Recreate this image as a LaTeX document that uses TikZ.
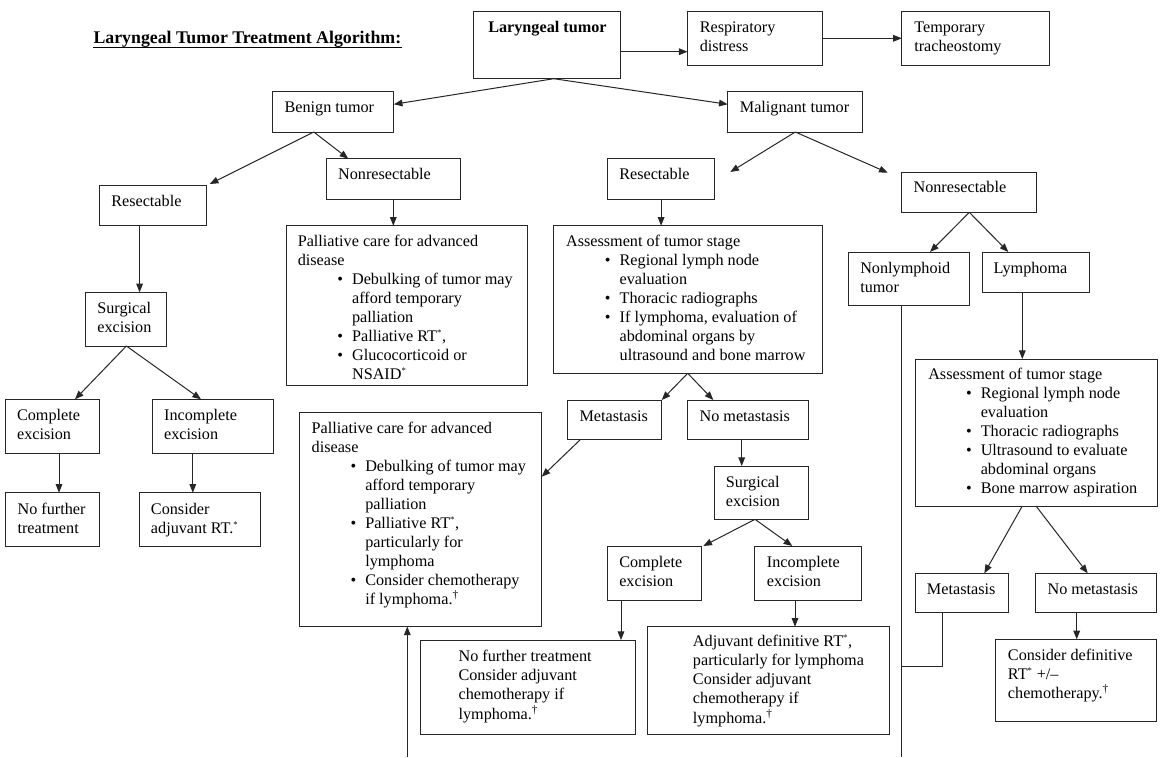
\documentclass[tikz,border=0pt]{standalone}
\usepackage{fontspec}
\setmainfont{Liberation Serif}
\usetikzlibrary{arrows.meta,calc}
\newdimen\pxu \pxu=0.75pt
\newcommand\fsz{\fontsize{12.15}{14.25}\selectfont}
\newcommand\bl[1]{\hspace*{#1\pxu}\llap{\textbullet\hspace{6.8pt}}}
\newcommand\cl[1]{\hspace*{#1\pxu}}
\newcommand\fs[1]{\textsuperscript{\fontsize{6.5}{7}\selectfont #1}}
\newcommand\dg{\textsuperscript{\textdagger}}
\tikzset{
  box/.style={draw=black!85, line width=0.75pt, anchor=north west, inner sep=0pt, outer sep=0pt},
  txt/.style={anchor=base west, inner sep=0pt, font=\fsz},
  conn/.style={draw=black!85, line width=0.75pt},
  arr/.style={conn, -{Triangle[length=6.5pt,width=5pt]}}
}
\newcommand\bx[8]{%
  \node[box, minimum width={(#4-#2)*0.75pt}, minimum height={(#5-#3)*0.75pt}] (#1) at (#2,#3) {};
  \node[txt] (#1t) at (#6,#7) {\begin{tabular}[t]{@{}l@{}}#8\end{tabular}};}
\begin{document}
\begin{tikzpicture}[x=0.75pt,y=-0.75pt]
\fill[white] (0,0) rectangle (1162,757);
\useasboundingbox (0,0) rectangle (1162,757);
% title
\node[anchor=base west, inner sep=0pt, font=\fontsize{13.35}{16}\selectfont\bfseries] (title) at (93.3,43.3) {Laryngeal Tumor Treatment Algorithm:};
\draw[line width=0.8pt] ($(title.base west)+(0,4)$) -- ($(title.base east)+(0,4)$);
% boxes
\bx{lar}{473.8}{11.7}{620.8}{78.7}{488}{32.3}{\textbf{Laryngeal tumor}}
\bx{resp}{687.6}{11.7}{822}{65.3}{699.5}{32.3}{Respiratory\\distress}
\bx{trach}{901.8}{11.7}{1049.6}{65.3}{914}{32.3}{Temporary\\tracheostomy}
\bx{benign}{272.9}{91.7}{393.8}{132}{284.3}{112}{Benign tumor}
\bx{malig}{727.7}{91.7}{862.1}{132}{739.6}{112}{Malignant tumor}
\bx{bnonres}{326.4}{158.7}{460.8}{199}{337.9}{179}{Nonresectable}
\bx{bres}{99.1}{185.7}{206.3}{225.3}{111}{206.3}{Resectable}
\bx{bsurg}{85.7}{292.3}{166.4}{346}{97.1}{313.3}{Surgical\\excision}
\bx{bcomp}{5.4}{399.3}{99.3}{453.3}{16.8}{420.5}{Complete\\excision}
\bx{binc}{152.9}{399.3}{273.2}{453.3}{163.9}{420.5}{Incomplete\\excision}
\bx{bnofur}{5.4}{492.7}{99.3}{546.7}{17.3}{514.3}{No further\\treatment}
\bx{badj}{139}{492.7}{260}{546.7}{150.7}{514.3}{Consider\\adjuvant RT.\fs{*}}
\bx{pallA}{286.8}{225.7}{527.5}{385.7}{297.5}{246.7}{Palliative care for advanced\\disease\\
\bl{54.3}Debulking of tumor may\\ \cl{54.3}afford temporary\\ \cl{54.3}palliation\\
\bl{54.3}Palliative RT\fs{*},\\ \bl{54.3}Glucocorticoid or\\ \cl{54.3}NSAID\fs{*}}
\bx{mres}{607.8}{158.7}{714.7}{199}{619}{179}{Resectable}
\bx{mnonres}{901.7}{172.3}{1036}{212.3}{913.3}{192.7}{Nonresectable}
\bx{mass}{553.9}{225.7}{822.1}{373.3}{565.8}{246.7}{Assessment of tumor stage\\
\bl{53.6}Regional lymph node\\ \cl{53.6}evaluation\\ \bl{53.6}Thoracic radiographs\\
\bl{53.6}If lymphoma, evaluation of\\ \cl{53.6}abdominal organs by\\ \cl{53.6}ultrasound and bone marrow}
\bx{nonlym}{848.3}{252}{969.3}{305.7}{860}{273.3}{Nonlymphoid\\tumor}
\bx{lymph}{982.3}{252}{1089.3}{292.7}{993.3}{273.3}{Lymphoma}
\bx{lass}{915.4}{359}{1157}{506}{928}{379}{Assessment of tumor stage\\
\bl{52.5}Regional lymph node\\ \cl{52.5}evaluation\\ \bl{52.5}Thoracic radiographs\\
\bl{52.5}Ultrasound to evaluate\\ \cl{52.5}abdominal organs\\ \bl{52.5}Bone marrow aspiration}
\bx{mmeta}{567.3}{400}{661.3}{439.3}{579.3}{421}{Metastasis}
\bx{mnometa}{687.7}{400}{808.3}{439.3}{699.3}{421}{No metastasis}
\bx{msurg}{714.3}{466}{808.3}{519.3}{725.7}{487}{Surgical\\excision}
\bx{mcomp}{607.7}{546}{701}{600}{619}{567.3}{Complete\\excision}
\bx{minc}{754.3}{546}{861.7}{600}{766.7}{567.3}{Incomplete\\excision}
\bx{pallB}{299.7}{412.7}{541}{626.5}{311.4}{433.3}{Palliative care for advanced\\disease\\
\bl{53.6}Debulking of tumor may\\ \cl{53.6}afford temporary\\ \cl{53.6}palliation\\
\bl{53.6}Palliative RT\fs{*},\\ \cl{53.6}particularly for\\ \cl{53.6}lymphoma\\
\bl{53.6}Consider chemotherapy\\ \cl{53.6}if lymphoma.\dg}
\bx{mnofur}{420}{640}{635}{734}{458.3}{661.7}{No further treatment\\Consider adjuvant\\chemotherapy if\\lymphoma.\dg}
\bx{madj}{647.7}{626.7}{889}{734}{692.7}{646.7}{Adjuvant definitive RT\fs{*},\\particularly for lymphoma\\Consider adjuvant\\chemotherapy if\\lymphoma.\dg}
\bx{lmeta}{915}{573.3}{1008.3}{612.7}{926.7}{594.5}{Metastasis}
\bx{lnometa}{1035.7}{573.3}{1156.7}{612.7}{1047.3}{594.5}{No metastasis}
\bx{lcons}{995.7}{639.3}{1156.7}{721}{1007.7}{660}{Consider definitive\\RT\fs{*} +/--\\chemotherapy.\dg}
% connectors
\draw[arr] ($(lar.north east)+(0,40)$) -- ($(resp.north west)+(0,40)$);
\draw[arr] ($(resp.north east)+(0,26.6)$) -- ($(trach.north west)+(0,26.6)$);
\coordinate (larS) at ($(lar.south west)+(80,0)$);
\draw[arr] (larS) -- ($(benign.north east)+(0,12.6)$);
\draw[arr] (larS) -- ($(malig.north west)+(0,12.6)$);
\coordinate (benS) at ($(benign.south west)+(40.9,0)$);
\draw[arr] (benS) -- ($(bres.north east)+(3.4,-1.7)$);
\draw[arr] (benS) -- ($(bnonres.north west)+(21.9,0)$);
\coordinate (bnrS) at ($(bnonres.south west)+(66.9,0)$);
\draw[arr] (bnrS) -- (bnrS |- pallA.north);
\coordinate (brS) at ($(bres.south west)+(40.5,0)$);
\draw[arr] (brS) -- (brS |- bsurg.north);
\coordinate (bsS) at ($(bsurg.south west)+(40.7,0)$);
\draw[arr] (bsS) -- ($(bcomp.north west)+(69.6,0)$);
\draw[arr] (bsS) -- ($(binc.north west)+(48.1,0)$);
\coordinate (bcS) at ($(bcomp.south west)+(53.6,0)$);
\draw[arr] (bcS) -- (bcS |- bnofur.north);
\coordinate (biS) at ($(binc.south west)+(39.9,0)$);
\draw[arr] (biS) -- (biS |- badj.north);
\coordinate (mgS) at ($(malig.south west)+(67.6,0)$);
\draw[arr] (mgS) -- ($(mres.north east)+(15.6,13.3)$);
\draw[arr] (mgS) -- ($(mnonres.north west)+(-14,0.4)$);
\coordinate (mrS) at ($(mres.south west)+(53.3,0)$);
\draw[arr] (mrS) -- (mrS |- mass.north);
\coordinate (maS) at ($(mass.south west)+(133.8,0)$);
\draw[arr] (maS) -- ($(mmeta.north east)+(0.4,0)$);
\draw[arr] (maS) -- ($(mnometa.north west)+(25.6,0)$);
\draw[arr] ($(mmeta.south west)+(13.4,0)$) -- ($(pallB.north east)+(0.7,64)$);
\coordinate (mnS) at ($(mnometa.south west)+(54,0)$);
\draw[arr] (mnS) -- (mnS |- msurg.north);
\coordinate (msS) at ($(msurg.south west)+(40.7,0)$);
\draw[arr] (msS) -- ($(mcomp.north east)+(2.3,0)$);
\draw[arr] (msS) -- ($(minc.north west)+(38,0)$);
\coordinate (mcS) at ($(mcomp.south west)+(13.3,0)$);
\draw[arr] (mcS) -- (mcS |- mnofur.north);
\coordinate (miS) at ($(minc.south west)+(40.7,0)$);
\draw[arr] (miS) -- (miS |- madj.north);
\coordinate (mnrS) at ($(mnonres.south west)+(67.6,0)$);
\draw[arr] (mnrS) -- ($(nonlym.north west)+(81.7,0)$);
\draw[arr] (mnrS) -- ($(lymph.north west)+(26,0)$);
\coordinate (lyS) at ($(lymph.south west)+(40,0)$);
\draw[arr] (lyS) -- (lyS |- lass.north);
\draw[arr] ($(lass.south west)+(106.9,0)$) -- ($(lmeta.north west)+(69.3,0)$);
\draw[arr] ($(lass.south west)+(120.6,0)$) -- ($(lnometa.north west)+(52,0)$);
\coordinate (lnS) at ($(lnometa.south west)+(41,0)$);
\draw[arr] (lnS) -- (lnS |- lcons.north);
\coordinate (nlS) at ($(nonlym.south west)+(53.4,0)$);
\coordinate (botA) at ($(nlS)+(0,451.3)$);
\draw[conn] (nlS) -- (botA);
\coordinate (join) at ($(nlS)+(0,361)$);
\draw[conn] ($(lmeta.south west)+(27.3,0)$) |- (join);
\coordinate (botB) at (407.3,757);
\draw[arr] (botB) -- (botB |- pallB.south);
\end{tikzpicture}
\end{document}
